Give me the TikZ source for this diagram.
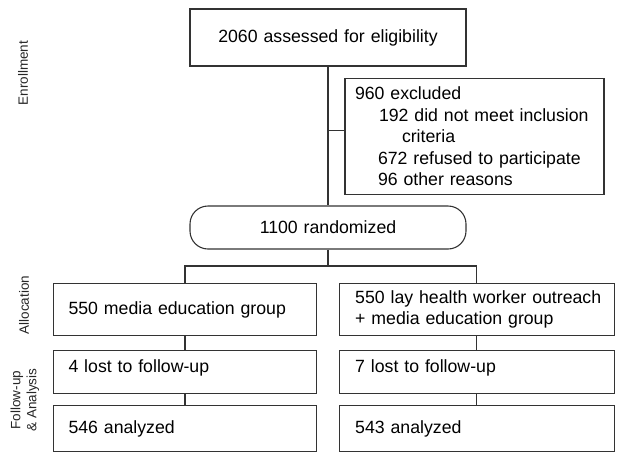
\documentclass[tikz,border=0pt]{standalone}
\usepackage{fontspec}
\setmainfont{Liberation Sans}
\newcommand{\flowfont}{\fontsize{17.7}{21.6}\selectfont}
\newcommand{\tagfont}{\fontsize{13.5}{16}\selectfont}
\tikzset{
  cbox/.style={draw=black!80,line width=1.1pt,font=\flowfont,align=left,inner xsep=15pt,inner ysep=0pt},
  rbox/.style={cbox,rounded corners=18pt,align=center},
  tag/.style={rotate=90,font=\tagfont,align=center,text=black!85},
  link/.style={draw=black!80,line width=1.1pt}
}
\begin{document}
\begin{tikzpicture}[x=1pt,y=-1pt]
\useasboundingbox (0,0) rectangle (624,461);
% stage tags
\node[tag](tEnrol) at (23,73){Enrollment};
\node[tag](tAlloc) at (24,305){Allocation};
\node[tag](tFollow) at (25,400){Follow-up\\\& Analysis};
% enrollment
\node[cbox,align=center,text width=246pt,minimum height=57pt](assess) at (328,37.5){2060 assessed for eligibility};
\node[cbox,inner xsep=10pt,text width=239pt,minimum height=116pt](excl) at (474.5,136.3){960 excluded\\
\hspace*{24pt}192 did not meet inclusion\\
\hspace*{47pt}criteria\\
\hspace*{23pt}672 refused to participate\\
\hspace*{23pt}96 other reasons};
\node[rbox,text width=246pt,minimum height=43pt](rand) at (328,227.5){1100 randomized};
% allocation, follow-up, analysis
\node[cbox,text width=233pt,minimum height=52.4pt](allocA) at (185,309.5){550 media education group};
\node[cbox,inner xsep=16pt,text width=243pt,minimum height=52.4pt](allocB) at (476.7,309.5){\mbox{550 lay health worker outreach}\\+ media education group};
\node[cbox,text width=233pt,minimum height=43.3pt,text depth=12pt](lostA) at (185,371.7){4 lost to follow-up};
\node[cbox,inner xsep=16pt,text width=243pt,minimum height=43.3pt,text depth=12pt](lostB) at (476.7,371.7){7 lost to follow-up};
\node[cbox,text width=233pt,minimum height=46pt](anA) at (185,428.7){546 analyzed};
\node[cbox,inner xsep=16pt,text width=243pt,minimum height=46pt](anB) at (476.7,428.7){543 analyzed};
% connectors
\coordinate(split) at (328,266);
\draw[link](assess)--(rand);
\draw[link]([yshift=6pt]excl.west)--([yshift=6pt]excl.west-|assess.south);
\draw[link](rand)--(split);
\draw[link](allocA.north)|-(split)-|(allocB.north);
\draw[link](allocA)--(lostA)--(anA);
\draw[link](allocB)--(lostB)--(anB);
\end{tikzpicture}
\end{document}
